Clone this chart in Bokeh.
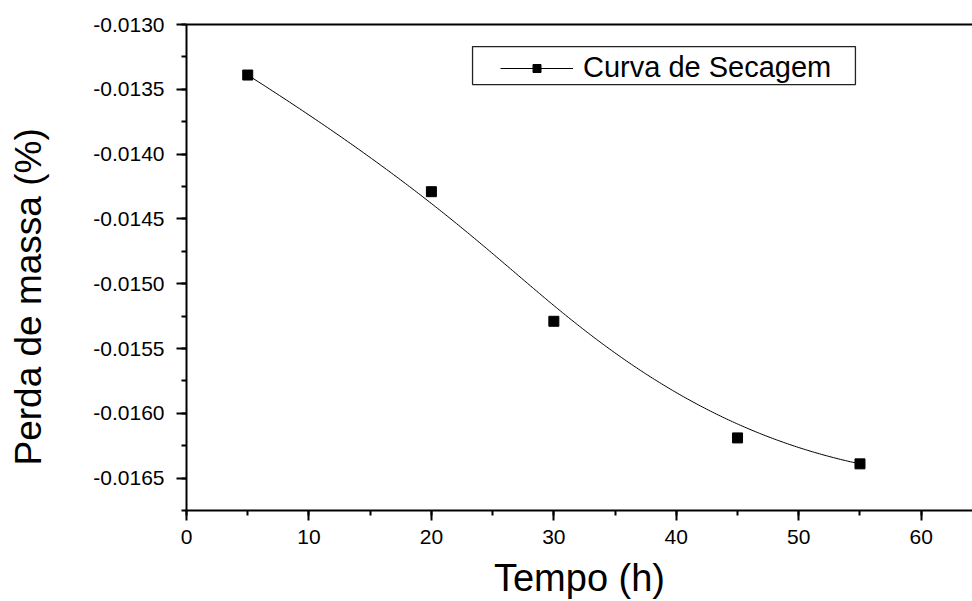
import numpy as np
from bokeh.plotting import figure
from bokeh.models import (Range1d, SingleIntervalTicker, PrintfTickFormatter, LinearAxis,
                          FixedTicker, Legend, LegendItem, BoxAnnotation, Title,
                          CustomJSTickFormatter)
from bokeh.embed import file_html
from bokeh.resources import INLINE

# ---- data ----
tempo = [5, 20, 30, 45, 55]                       # Tempo (h)
perda = [-0.01339, -0.01429, -0.01529, -0.01619, -0.01639]  # Perda de massa (%)
serie_nome = "Curva de Secagem"
x_titulo = "Tempo (h)"
y_titulo = "Perda de massa (%)"

FONT = "Liberation Sans"


def bspline(px, py, npts=300, k=3):
    """Clamped B-spline using the data points as control points (Origin 'B-Spline')."""
    px = np.asarray(px, float)
    py = np.asarray(py, float)
    m = len(px)
    n_int = m - k - 1
    knots = np.concatenate([np.zeros(k + 1),
                            np.arange(1, n_int + 1) / (n_int + 1),
                            np.ones(k + 1)])
    t = np.linspace(0, 1, npts)
    t[-1] = 1 - 1e-12

    def N(i, kk, tt):
        if kk == 0:
            return np.where((knots[i] <= tt) & (tt < knots[i + 1]), 1.0, 0.0)
        out = np.zeros_like(tt)
        d1 = knots[i + kk] - knots[i]
        d2 = knots[i + kk + 1] - knots[i + 1]
        if d1 > 0:
            out += (tt - knots[i]) / d1 * N(i, kk - 1, tt)
        if d2 > 0:
            out += (knots[i + kk + 1] - tt) / d2 * N(i + 1, kk - 1, tt)
        return out

    B = np.array([N(i, k, t) for i in range(m)])
    return B.T @ px, B.T @ py


cx, cy = bspline(tempo, perda)

p = figure(width=972, height=601, output_backend="svg", toolbar_location=None,
           x_range=Range1d(0, 64.19), y_range=Range1d(-0.01675, -0.0130),
           min_border_left=186, min_border_right=0, min_border_top=24, min_border_bottom=91,
           background_fill_color="white", border_fill_color="white")
p.outline_line_color = None
p.xgrid.visible = False
p.ygrid.visible = False

line_r = p.line(cx, cy, line_color="black", line_width=1)
pts_r = p.scatter(tempo, perda, marker="square", size=10, fill_color="black", line_color="black")

# axes styling
for ax in (p.xaxis[0], p.yaxis[0]):
    ax.axis_line_width = 2
    ax.axis_line_color = "black"
    ax.major_tick_in = 0
    ax.major_tick_out = 10
    ax.minor_tick_in = 0
    ax.minor_tick_out = 5
    ax.major_tick_line_width = 2
    ax.minor_tick_line_width = 2
    ax.major_tick_line_color = "black"
    ax.minor_tick_line_color = "black"
    ax.major_label_text_font = FONT
    ax.major_label_text_font_size = "21px"
    ax.major_label_text_color = "black"

p.xaxis[0].ticker = SingleIntervalTicker(interval=10, num_minor_ticks=2)
p.yaxis[0].ticker = SingleIntervalTicker(interval=0.0005, num_minor_ticks=2)
p.yaxis[0].formatter = PrintfTickFormatter(format="%.4f")
p.xaxis[0].major_label_standoff = 9
p.yaxis[0].major_label_standoff = 12

# top frame line
top_ax = LinearAxis(ticker=FixedTicker(ticks=[]), axis_line_width=2, axis_line_color="black",
                    major_tick_out=0, major_tick_in=0, minor_tick_out=0, minor_tick_in=0)
p.add_layout(top_ax, "above")

# x title: line-less, tick-less axis carrying only the label
p.add_layout(LinearAxis(ticker=FixedTicker(ticks=[]), axis_line_alpha=0,
                        major_tick_out=0, major_tick_in=0, minor_tick_out=0, minor_tick_in=0,
                        major_label_standoff=0, axis_label=x_titulo, axis_label_standoff=10,
                        axis_label_text_font=FONT, axis_label_text_font_size="38px",
                        axis_label_text_font_style="normal", axis_label_text_color="black"),
             "below")

# invisible spacer between the y tick labels and the y title
spacer = LinearAxis(ticker=FixedTicker(ticks=[-0.015]), axis_line_alpha=0,
                    major_tick_out=37, major_tick_in=0, minor_tick_out=0, minor_tick_in=0,
                    major_tick_line_alpha=0, major_label_standoff=0,
                    formatter=CustomJSTickFormatter(code="return ''"))
p.add_layout(spacer, "left")

# y title, placed lower than the frame centre as in the original
p.add_layout(Title(text=y_titulo, align="left", offset=45, vertical_align="bottom",
                   text_font=FONT, text_font_size="37px", text_font_style="normal",
                   text_color="black"), "left")

# legend frame
p.add_layout(BoxAnnotation(left=23.36, right=54.63, top=-0.013170, bottom=-0.0134637,
                           fill_alpha=0, line_color="#222222", line_width=1.3, line_alpha=1))

legend = Legend(items=[LegendItem(label=serie_nome, renderers=[line_r, pts_r])],
                location=(311, 423), padding=3, margin=0, spacing=0,
                glyph_width=73, glyph_height=20, label_standoff=10,
                label_text_font=FONT, label_text_font_size="29px", label_text_color="black",
                border_line_alpha=0, background_fill_alpha=0)
p.add_layout(legend, "center")

open("out.html", "w").write(file_html(p, INLINE))
